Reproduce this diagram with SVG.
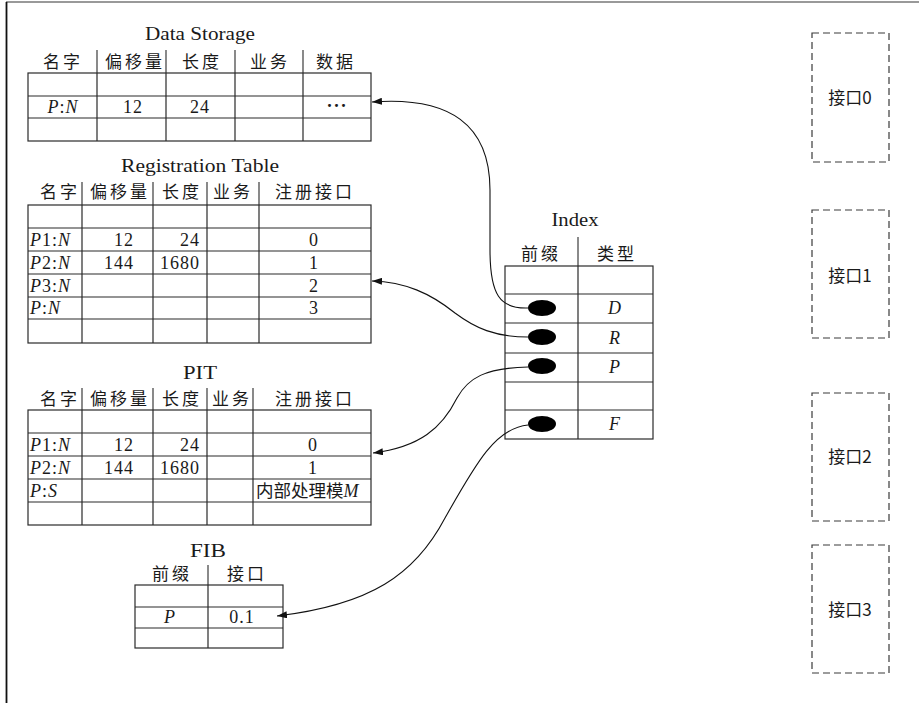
<svg xmlns="http://www.w3.org/2000/svg" width="919" height="703" viewBox="0 0 919 703">
<defs>
<style>
.ln{stroke:#2a2a2a;stroke-width:1.2;fill:none}
.sep{stroke:#2a2a2a;stroke-width:1.1}
.ttl{font-family:"Liberation Serif","Noto Sans CJK SC",serif;font-size:18px;fill:#1a1a1a;text-anchor:middle}
.cn{font-family:"Noto Sans CJK SC","Liberation Serif",sans-serif;font-size:17px;fill:#1a1a1a;text-anchor:middle;letter-spacing:3px}
.tx{font-family:"Liberation Serif","Noto Sans CJK SC",serif;font-size:18px;fill:#1a1a1a;letter-spacing:1px}
.mid{text-anchor:middle}
.end{text-anchor:end}
.it{font-style:italic}
.con{stroke:#111;stroke-width:1.1;fill:none;marker-end:url(#ah)}
.dash{stroke:#3a3a3a;stroke-width:1.2;fill:none;stroke-dasharray:7 4}
.lbl{font-family:"Noto Sans CJK SC","Liberation Serif",sans-serif;font-size:17px;fill:#1a1a1a;text-anchor:middle}
</style>
<marker id="ah" viewBox="0 0 10 7" refX="10" refY="3.5" markerWidth="10" markerHeight="7" markerUnits="userSpaceOnUse" orient="auto">
<path d="M0,0 L10,3.5 L0,7 z" fill="#111"/>
</marker>
</defs>
<rect width="919" height="703" fill="#fff"/>
<line x1="6" y1="2" x2="919" y2="2" stroke="#777" stroke-width="1.5"/>
<line x1="6.5" y1="2" x2="6.5" y2="703" stroke="#111" stroke-width="1.8"/>

<g id="data-storage">
<text class="ttl" x="200" y="40" textLength="110" lengthAdjust="spacingAndGlyphs">Data Storage</text>
<text class="cn" x="63" y="68">名字</text>
<text class="cn" x="135" y="68">偏移量</text>
<text class="cn" x="202" y="68">长度</text>
<text class="cn" x="270" y="68">业务</text>
<text class="cn" x="336" y="68">数据</text>
<path class="sep" d="M97,50V73 M166,50V73 M235,50V73 M303,50V73"/>
<rect class="ln" x="28" y="73" width="343" height="68"/>
<path class="ln" d="M28,96H371 M28,118H371 M97,73V141 M166,73V141 M235,73V141 M303,73V141"/>
<text class="tx mid" x="63" y="113"><tspan class="it">P</tspan>:<tspan class="it">N</tspan></text>
<text class="tx mid" x="133" y="113">12</text>
<text class="tx mid" x="200" y="113">24</text>
<text class="tx mid" x="337" y="112" font-weight="bold">···</text>
</g>

<g id="registration-table">
<text class="ttl" x="200" y="172" textLength="158" lengthAdjust="spacingAndGlyphs">Registration Table</text>
<text class="cn" x="60" y="198">名字</text>
<text class="cn" x="120" y="198">偏移量</text>
<text class="cn" x="182" y="198">长度</text>
<text class="cn" x="233" y="198">业务</text>
<text class="cn" x="315" y="198">注册接口</text>
<path class="sep" d="M82,182V205 M153,182V205 M207,182V205 M259,182V205"/>
<rect class="ln" x="28" y="205" width="343" height="138"/>
<path class="ln" d="M28,228H371 M28,251H371 M28,274H371 M28,297H371 M28,319H371 M82,205V343 M153,205V343 M207,205V343 M259,205V343"/>
<text class="tx" x="30" y="246"><tspan class="it">P</tspan>1:<tspan class="it">N</tspan></text>
<text class="tx end" x="134" y="246">12</text>
<text class="tx end" x="200" y="246">24</text>
<text class="tx mid" x="314" y="246">0</text>
<text class="tx" x="30" y="269"><tspan class="it">P</tspan>2:<tspan class="it">N</tspan></text>
<text class="tx end" x="134" y="269">144</text>
<text class="tx end" x="200" y="269">1680</text>
<text class="tx mid" x="314" y="269">1</text>
<text class="tx" x="30" y="292"><tspan class="it">P</tspan>3:<tspan class="it">N</tspan></text>
<text class="tx mid" x="314" y="292">2</text>
<text class="tx" x="30" y="314"><tspan class="it">P</tspan>:<tspan class="it">N</tspan></text>
<text class="tx mid" x="314" y="314">3</text>
</g>

<g id="pit">
<text class="ttl" x="200" y="379" textLength="34" lengthAdjust="spacingAndGlyphs">PIT</text>
<text class="cn" x="60" y="405">名字</text>
<text class="cn" x="120" y="405">偏移量</text>
<text class="cn" x="182" y="405">长度</text>
<text class="cn" x="232" y="405">业务</text>
<text class="cn" x="315" y="405">注册接口</text>
<path class="sep" d="M82,388V410 M153,388V410 M207,388V410 M253,388V410"/>
<rect class="ln" x="28" y="410" width="343" height="115"/>
<path class="ln" d="M28,433H371 M28,456H371 M28,479H371 M28,502H371 M82,410V525 M153,410V525 M207,410V525 M253,410V525"/>
<text class="tx" x="30" y="451"><tspan class="it">P</tspan>1:<tspan class="it">N</tspan></text>
<text class="tx end" x="134" y="451">12</text>
<text class="tx end" x="200" y="451">24</text>
<text class="tx mid" x="313" y="451">0</text>
<text class="tx" x="30" y="474"><tspan class="it">P</tspan>2:<tspan class="it">N</tspan></text>
<text class="tx end" x="134" y="474">144</text>
<text class="tx end" x="200" y="474">1680</text>
<text class="tx mid" x="313" y="474">1</text>
<text class="tx" x="30" y="497"><tspan class="it">P</tspan>:<tspan class="it">S</tspan></text>
<text x="256" y="497" style="font-family:'Noto Sans CJK SC','Liberation Serif',sans-serif;font-size:17.5px;fill:#1a1a1a">内部处理模<tspan style="font-family:'Liberation Serif',serif;font-style:italic;font-size:18px">M</tspan></text>
</g>

<g id="fib">
<text class="ttl" x="208" y="557" textLength="36" lengthAdjust="spacingAndGlyphs">FIB</text>
<text class="cn" x="172" y="580">前缀</text>
<text class="cn" x="247" y="580">接口</text>
<path class="sep" d="M208,565V585"/>
<rect class="ln" x="135" y="585" width="148" height="63"/>
<path class="ln" d="M135,607H283 M135,628H283 M208,585V648"/>
<text class="tx mid it" x="170" y="623">P</text>
<text class="tx mid" x="242" y="623">0.1</text>
</g>

<g id="index">
<text class="ttl" x="575" y="226" textLength="47" lengthAdjust="spacingAndGlyphs">Index</text>
<text class="cn" x="541" y="260">前缀</text>
<text class="cn" x="617" y="260">类型</text>
<path class="sep" d="M578,237V266"/>
<rect class="ln" x="505" y="266" width="148" height="173"/>
<path class="ln" d="M505,294H653 M505,323H653 M505,353H653 M505,382H653 M505,410H653 M578,266V439"/>
<ellipse cx="542" cy="308" rx="14" ry="8" fill="#000"/>
<ellipse cx="542" cy="337" rx="14" ry="8" fill="#000"/>
<ellipse cx="542" cy="366" rx="14" ry="8" fill="#000"/>
<ellipse cx="542" cy="424" rx="14" ry="8" fill="#000"/>
<text class="tx mid it" x="615" y="314">D</text>
<text class="tx mid it" x="615" y="344">R</text>
<text class="tx mid it" x="615" y="373">P</text>
<text class="tx mid it" x="615" y="430">F</text>
</g>

<g id="interface-0">
<rect class="dash" x="812" y="33" width="77" height="129"/>
<text class="lbl" x="850" y="104">接口0</text>
</g>
<g id="interface-1">
<rect class="dash" x="812" y="210" width="77" height="128"/>
<text class="lbl" x="850" y="282">接口1</text>
</g>
<g id="interface-2">
<rect class="dash" x="812" y="393" width="77" height="128"/>
<text class="lbl" x="850" y="463">接口2</text>
</g>
<g id="interface-3">
<rect class="dash" x="812" y="545" width="77" height="128"/>
<text class="lbl" x="850" y="616">接口3</text>
</g>

<g id="connectors">
<path class="con" d="M528,308 C500,309 490,295 490,250 L490,190 C490,125 450,96 372,102"/>
<path class="con" d="M528,337 C495,337 475,328 455,313 C430,293 405,282 372,281"/>
<path class="con" d="M528,367 C485,368 468,378 457,398 C442,428 420,447 373,453"/>
<path class="con" d="M528,425 C495,428 475,465 445,518 C415,575 370,605 277,616"/>
</g>
</svg>
